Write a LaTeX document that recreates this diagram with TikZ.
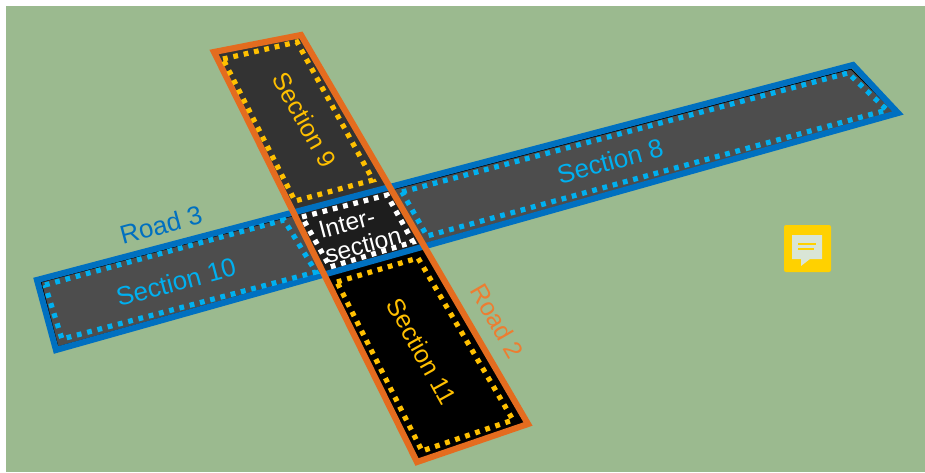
\documentclass[tikz,border=0pt]{standalone}
\usepackage{fontspec}
\setmainfont{Liberation Sans}
\definecolor{grass}{HTML}{9BBA8F}
\definecolor{roadblue}{HTML}{0070C0}
\definecolor{roadorange}{HTML}{E46C1F}
\definecolor{textorange}{HTML}{ED7D31}
\definecolor{secblue}{HTML}{00B0F0}
\definecolor{secyellow}{HTML}{FFC000}
\definecolor{roadgray}{HTML}{4D4D4D}
\definecolor{secnine}{HTML}{333333}
\definecolor{secmid}{HTML}{1D1D1D}
\definecolor{iconyellow}{HTML}{FFD100}
\definecolor{iconpale}{HTML}{D9E5D6}
\tikzset{
  roadline/.style={line width=4.6pt,line join=miter},
  secdots/.style={line width=3.9pt,dash pattern=on 3.6pt off 4.35pt},
  lab/.style={font=\fontsize{19.5}{22}\selectfont,inner sep=0pt},
  labr/.style={font=\fontsize{18.8}{22}\selectfont,inner sep=0pt},
}
\begin{document}
\begin{tikzpicture}[x=0.75pt,y=-0.75pt]
\useasboundingbox (0,0) rectangle (925,472);
\fill[white] (0,0) rectangle (925,472);
\fill[grass] (6,6) rectangle (925,472);
% Road 3 outline centre lines
\coordinate (ra) at (37,280);
\coordinate (rb) at (853,65);
\coordinate (rc) at (898,113);
\coordinate (rd) at (56,350);
% Road 2 outline centre lines
\coordinate (oa) at (214,52);
\coordinate (ob) at (301,35);
\coordinate (oc) at (528,424);
\coordinate (od) at (417,462);
% crossing points
\coordinate (x1) at (intersection cs:first line={(ra)--(rb)},second line={(oa)--(od)});
\coordinate (x2) at (intersection cs:first line={(ra)--(rb)},second line={(ob)--(oc)});
\coordinate (x3) at (intersection cs:first line={(rd)--(rc)},second line={(ob)--(oc)});
\coordinate (x4) at (intersection cs:first line={(rd)--(rc)},second line={(oa)--(od)});
% road surface
\draw[black,line width=0.8pt,fill=roadgray] (41,282) -- (851,69) -- (895,112) -- (58,347) -- cycle;
% road 2 sections
\fill[black] (x4) -- (x3) -- (oc) -- (od) -- cycle;
\fill[secnine] (oa) -- (ob) -- (x2) -- (x1) -- cycle;
\fill[secmid] (x1) -- (x2) -- (x3) -- (x4) -- cycle;
% outlines
\draw[roadblue,roadline] (ra) -- (rb) -- (rc) -- (rd) -- cycle;
\draw[roadorange,roadline] (oa) -- (ob) -- (oc) -- (od) -- cycle;
% section borders
\draw[secblue,secdots] (45,285) -- (284,220) -- (316,272) -- (62,339) -- cycle;
\draw[secblue,secdots] (402,192) -- (848,73) -- (887,110) -- (427,236) -- cycle;
\draw[secyellow,secdots] (223,59) -- (297,42) -- (373,180) -- (295,201) -- cycle;
\draw[secyellow,secdots] (337,282) -- (418,258) -- (513,420) -- (422,451) -- cycle;
\draw[white,secdots] (302,217) -- (387,195) -- (413,242) -- (330,267) -- cycle;
% labels
\node[lab,text=roadblue,rotate=15] (road3) at (161,225) {Road 3};
\node[labr,text=textorange,rotate=-60] (road2) at (497,321) {Road 2};
\node[lab,text=secblue,rotate=15] (s10) at (176,282) {Section 10};
\node[lab,text=secblue,rotate=15] (s8) at (610,161) {Section 8};
\node[labr,text=secyellow,rotate=-61] (s9) at (305,120) {Section 9};
\node[labr,text=secyellow,rotate=-61] (s11) at (422,351) {Section 11};
\node[text=white,rotate=15,align=left,inner sep=0pt,font=\fontsize{18.4}{19}\selectfont] (mid) at (360,233) {Inter-\\section};
% comment icon
\fill[iconyellow,rounded corners=1.5pt] (784,225) rectangle (831,272);
\fill[iconpale] (792,235) -- (822,235) -- (822,259) -- (810,259) -- (801,266) -- (801,259) -- (792,259) -- cycle;
\draw[iconyellow,line width=0.9pt] (798,244) -- (816,244) (798,249) -- (814,249);
\end{tikzpicture}
\end{document}
